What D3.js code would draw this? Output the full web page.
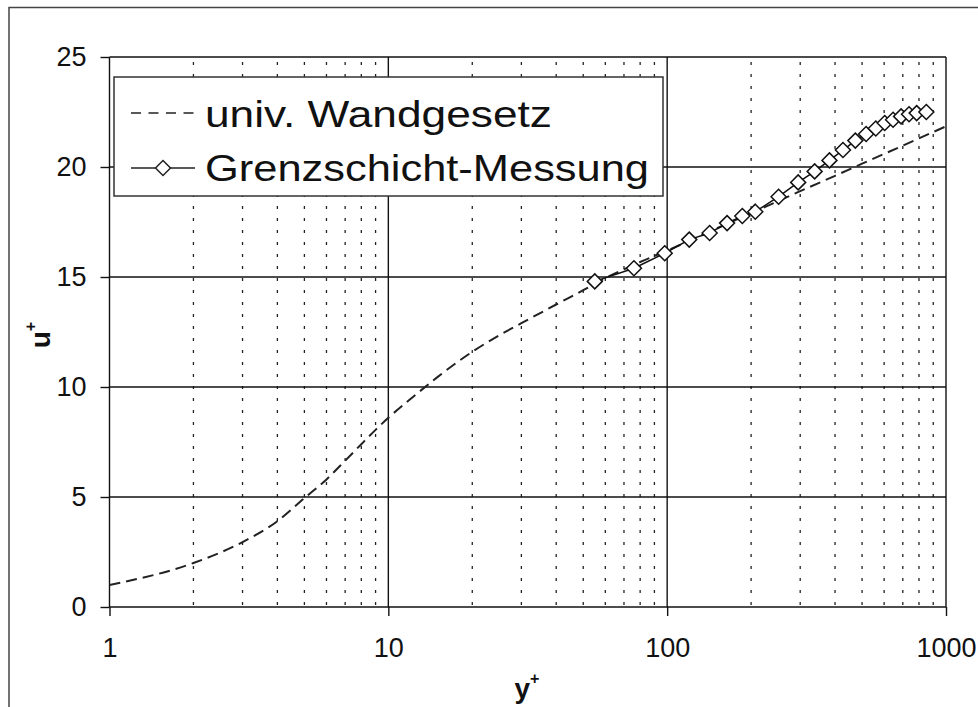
<!DOCTYPE html>
<html>
<head>
<meta charset="utf-8">
<script src="https://cdn.jsdelivr.net/npm/d3@7/dist/d3.min.js"></script>
<style>
  html, body { margin: 0; padding: 0; background: #fff; }
  svg { display: block; font-family: "Liberation Sans", Arial, sans-serif; }
</style>
</head>
<body>
<svg id="chart" width="978" height="707"></svg>
<script>
// ---- data ----
const lawYPlus = [1, 2, 3, 4, 5, 6, 7, 8, 9, 10, 12, 15, 20, 25, 30, 40, 50, 60, 70, 80, 100, 150, 200, 300, 400, 500, 700, 1000];
const lawUPlus = [1.0, 2.0, 2.95, 3.9, 4.95, 5.8, 6.65, 7.4, 8.05, 8.6, 9.45, 10.45, 11.6, 12.35, 12.9, 13.75, 14.4, 14.95, 15.35, 15.68, 16.2, 17.2, 17.9, 18.9, 19.6, 20.15, 20.97, 21.85];

const measYPlus = [55, 76, 98, 120, 142, 164, 186, 207, 251, 295, 338, 382, 427, 473, 517, 560, 603, 646, 690, 737, 785, 850];
const measUPlus = [14.8, 15.4, 16.08, 16.7, 17.0, 17.45, 17.77, 17.97, 18.65, 19.3, 19.8, 20.3, 20.77, 21.2, 21.5, 21.75, 22.0, 22.15, 22.3, 22.4, 22.45, 22.5];

const xTickValues = [1, 10, 100, 1000];
const yTickValues = [0, 5, 10, 15, 20, 25];
const legendLabels = ["univ. Wandgesetz", "Grenzschicht-Messung"];
const xTitle = "y";
const yTitle = "u";

// ---- layout ----
(function () {
const svg = d3.select("#chart");
const W = 978, H = 707;
const pLeft = 109.5, pRight = 946, pTop = 57, pBottom = 607;

svg.append("rect").attr("width", W).attr("height", H).attr("fill", "#fff");
// outer frame
svg.append("rect").attr("x", 9).attr("y", 7.5).attr("width", W + 20).attr("height", H + 20)
  .attr("fill", "none").attr("stroke", "#444").attr("stroke-width", 1.5);

const x = d3.scaleLog().domain([1, 1000]).range([pLeft, pRight]);
const y = d3.scaleLinear().domain([0, 25]).range([pBottom, pTop]);

// minor grid (dotted)
const minor = [];
[1, 10, 100].forEach(dec => { for (let k = 2; k <= 9; k++) minor.push(dec * k); });
svg.append("g").selectAll("line").data(minor).join("line")
  .attr("x1", d => x(d)).attr("x2", d => x(d))
  .attr("y1", pBottom).attr("y2", pTop)
  .attr("stroke", "#222").attr("stroke-width", 1.3)
  .attr("stroke-dasharray", "3,9").attr("stroke-dashoffset", 10);

// major grid
svg.append("g").selectAll("line").data(yTickValues).join("line")
  .attr("x1", pLeft).attr("x2", pRight)
  .attr("y1", d => y(d)).attr("y2", d => y(d))
  .attr("stroke", "#111").attr("stroke-width", 1.4);
svg.append("g").selectAll("line").data(xTickValues).join("line")
  .attr("x1", d => x(d)).attr("x2", d => x(d))
  .attr("y1", pBottom).attr("y2", pTop)
  .attr("stroke", "#111").attr("stroke-width", 1.4);

// axes
const xAxis = d3.axisBottom(x).tickValues(xTickValues).tickFormat(d3.format("d"))
  .tickSize(9).tickSizeOuter(0).tickPadding(22);
const gx = svg.append("g").attr("transform", `translate(0,${pBottom})`).call(xAxis);
gx.select(".domain").remove();
gx.selectAll(".tick line").attr("stroke", "#111").attr("stroke-width", 1.4);
gx.selectAll(".tick text").attr("font-size", 27).attr("fill", "#111")
  .attr("font-family", "Liberation Sans, Arial, sans-serif");

const yAxis = d3.axisLeft(y).tickValues(yTickValues).tickFormat(d3.format("d"))
  .tickSize(9).tickSizeOuter(0).tickPadding(14);
const gy = svg.append("g").attr("transform", `translate(${pLeft},0)`).call(yAxis);
gy.select(".domain").remove();
gy.selectAll(".tick line").attr("stroke", "#111").attr("stroke-width", 1.4);
gy.selectAll(".tick text").attr("font-size", 27).attr("fill", "#111")
  .attr("font-family", "Liberation Sans, Arial, sans-serif");

// law of the wall (dashed)
const lawData = lawYPlus.map((v, i) => [v, lawUPlus[i]]);
const line = d3.line().x(d => x(d[0])).y(d => y(d[1])).curve(d3.curveMonotoneX);
svg.append("path").datum(lawData).attr("d", line)
  .attr("fill", "none").attr("stroke", "#222").attr("stroke-width", 2)
  .attr("stroke-dasharray", "11,6");

// measurement
const measData = measYPlus.map((v, i) => [v, measUPlus[i]]);
svg.append("path").datum(measData).attr("d", d3.line().x(d => x(d[0])).y(d => y(d[1])))
  .attr("fill", "none").attr("stroke", "#111").attr("stroke-width", 1.5);
const r = 7.5;
svg.append("g").selectAll("path").data(measData).join("path")
  .attr("d", d => `M${x(d[0])},${y(d[1]) - r}L${x(d[0]) + r},${y(d[1])}L${x(d[0])},${y(d[1]) + r}L${x(d[0]) - r},${y(d[1])}Z`)
  .attr("fill", "#fff").attr("stroke", "#111").attr("stroke-width", 1.5);

// legend
const lg = svg.append("g");
lg.append("rect").attr("x", 114).attr("y", 77).attr("width", 549).attr("height", 119)
  .attr("fill", "#fff").attr("stroke", "#333").attr("stroke-width", 1.5);
lg.append("line").attr("x1", 131).attr("x2", 195).attr("y1", 113).attr("y2", 113)
  .attr("stroke", "#222").attr("stroke-width", 1.5).attr("stroke-dasharray", "10,7.5");
lg.append("line").attr("x1", 131).attr("x2", 195).attr("y1", 168).attr("y2", 168)
  .attr("stroke", "#222").attr("stroke-width", 1.5);
lg.append("path").attr("d", `M163,${168 - r}L${163 + r},168L163,${168 + r}L${163 - r},168Z`)
  .attr("fill", "#fff").attr("stroke", "#222").attr("stroke-width", 1.5);
lg.append("text").attr("x", 205).attr("y", 127).attr("font-size", 37)
  .attr("textLength", 347).attr("lengthAdjust", "spacingAndGlyphs")
  .attr("fill", "#111").text(legendLabels[0]);
lg.append("text").attr("x", 205).attr("y", 181).attr("font-size", 37)
  .attr("textLength", 444).attr("lengthAdjust", "spacingAndGlyphs")
  .attr("fill", "#111").text(legendLabels[1]);

// axis titles
const xt = svg.append("text").attr("x", 527).attr("y", 698).attr("text-anchor", "middle")
  .attr("font-size", 28).attr("font-weight", "bold").attr("fill", "#111");
xt.append("tspan").text(xTitle);
xt.append("tspan").attr("font-size", 16).attr("dy", -14).text("+");

const yt = svg.append("text").attr("transform", "translate(50,335) rotate(-90)")
  .attr("text-anchor", "middle").attr("font-size", 28).attr("font-weight", "bold").attr("fill", "#111");
yt.append("tspan").text(yTitle);
yt.append("tspan").attr("font-size", 16).attr("dy", -14).text("+");
})();
</script>
</body>
</html>
